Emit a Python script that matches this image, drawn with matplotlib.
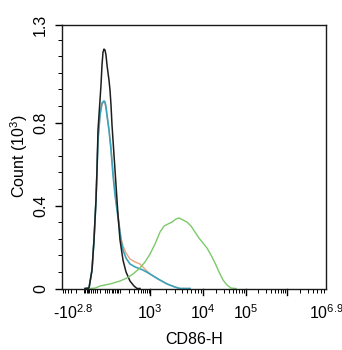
import matplotlib
matplotlib.use("Agg")
import matplotlib.pyplot as plt
import numpy as np

plt.rcParams['font.family'] = ['Liberation Sans', 'DejaVu Sans']
plt.rcParams['mathtext.fontset'] = 'custom'
plt.rcParams['mathtext.rm'] = 'Liberation Sans'
plt.rcParams['mathtext.it'] = 'Liberation Sans'

# histogram curves: x in display channel units (0 = -10^2.8, 264 = 10^6.9), y in count (10^3)
black_x = [23, 27, 30, 32, 34, 35, 36, 38, 39, 40, 41, 42, 43, 44, 45, 47, 48, 49, 50, 51,
           53, 55, 56, 58, 61, 64, 68, 72, 75, 78]
black_y = [0.0, 0.002, 0.089, 0.234, 0.427, 0.571, 0.764, 0.908, 0.981, 1.077, 1.139, 1.154,
           1.149, 1.125, 1.077, 1.004, 0.956, 0.884, 0.788, 0.716, 0.571, 0.427, 0.354, 0.234,
           0.137, 0.080, 0.036, 0.012, 0.0, 0.0]

teal_x = [23, 27, 30, 32, 34, 35, 36, 38, 40, 42, 43, 44, 45, 47, 49, 51, 53, 55, 57, 59,
          61, 64, 68, 73, 81, 88, 96, 105, 113, 118, 128]
teal_y = [0.0, 0.002, 0.089, 0.234, 0.427, 0.571, 0.716, 0.836, 0.894, 0.904, 0.899, 0.875,
          0.836, 0.764, 0.668, 0.547, 0.451, 0.378, 0.306, 0.234, 0.185, 0.147, 0.118, 0.104,
          0.089, 0.070, 0.046, 0.022, 0.007, 0.0, 0.0]

orange_x = [23, 27, 30, 32, 34, 35, 36, 38, 40, 42, 43, 44, 45, 47, 49, 51, 53, 55, 57, 59,
            61, 64, 68, 73, 78, 83, 88, 96, 105, 113, 118, 128]
orange_y = [0.0, 0.002, 0.089, 0.234, 0.427, 0.571, 0.716, 0.836, 0.889, 0.899, 0.894, 0.870,
            0.831, 0.764, 0.680, 0.564, 0.465, 0.390, 0.318, 0.243, 0.205, 0.171, 0.142, 0.128,
            0.118, 0.094, 0.070, 0.046, 0.022, 0.007, 0.0, 0.0]

green_x = [28, 33, 38, 48, 58, 65, 71, 78, 83, 88, 93, 98, 102, 106, 110, 114, 117, 121, 125,
           129, 133, 137, 141, 145, 149, 153, 157, 161, 165, 169, 174]
green_y = [0.0, 0.002, 0.012, 0.022, 0.036, 0.051, 0.070, 0.099, 0.128, 0.166, 0.214, 0.272,
           0.301, 0.311, 0.320, 0.335, 0.340, 0.330, 0.320, 0.301, 0.272, 0.243, 0.219, 0.195,
           0.161, 0.123, 0.080, 0.041, 0.017, 0.002, 0.0]

# biexponential-like axis anchors (value -> channel)
scale_vals = [-10**2.8, 0, 1e3, 1e4, 1e5, 1e6, 10**6.9]
scale_pos = [0, 40, 88, 141, 184, 225, 264]
x_labels = ['-$10^{2.8}$', '$10^{3}$', '$10^{4}$', '$10^{5}$', '$10^{6.9}$']
x_label_vals = [-10**2.8, 1e3, 1e4, 1e5, 10**6.9]


def to_channel(v):
    u = np.arcsinh(np.asarray(v, dtype=float) / 50.0)
    return np.interp(u, np.arcsinh(np.array(scale_vals) / 50.0), scale_pos)


fig = plt.figure(figsize=(3.42, 3.5), dpi=100)
ax = fig.add_axes([62 / 342, 61.5 / 350, 264 / 342, 263.5 / 350])

ax.plot(orange_x, orange_y, color='#e9a47e', lw=1.0)
ax.plot(teal_x, teal_y, color='#3aa3bb', lw=1.2)
ax.plot(black_x, black_y, color='#1e1e1e', lw=1.1)
ax.plot(green_x, green_y, color='#7cc96a', lw=1.0)

ax.set_xlim(0, 264)
ax.set_ylim(0, 1.27)

# x ticks
major = [1e3, 1e4, 1e5, 1e6]
minor = [-m * 100 for m in range(1, 7)] + [m * 10 for m in range(1, 10)] + [-m * 10 for m in range(1, 10)]
for d in range(2, 7):
    minor += [m * 10**d for m in range(2, 10)]
minor = [v for v in minor if -10**2.8 <= v <= 10**6.9]
ax.set_xticks(to_channel(x_label_vals[1:]))
ax.set_xticklabels(x_labels[1:], fontsize=11.5)
ax.set_xticks(np.concatenate([to_channel(major), to_channel(minor)]), minor=True)
ax.tick_params(axis='x', which='major', length=0, pad=11)
ax.tick_params(axis='x', which='minor', length=3, width=0.7, direction='out')
for v in major:
    ax.plot([to_channel(v)] * 2, [0, -0.03], color='black', lw=1.0, clip_on=False)
# first label sits to the right of its tick, as in the original
ax.annotate(x_labels[0], xy=(-9, 0), xycoords=ax.get_xaxis_transform(),
            xytext=(0, -11), textcoords='offset points', ha='left', va='top',
            fontsize=11.5, annotation_clip=False)

# y ticks
ax.set_yticks([0, 0.4, 0.8, 1.27])
ax.set_yticklabels(['0', '0.4', '0.8', '1.3'], rotation=90, va='center', fontsize=11.5)
ax.set_yticks(np.arange(0.08, 1.27, 0.08), minor=True)
ax.tick_params(axis='y', which='major', length=5, width=1.0, direction='out', pad=5)
ax.tick_params(axis='y', which='minor', length=3, width=0.7, direction='out')

for s in ax.spines.values():
    s.set_linewidth(1.0)
    s.set_color('#1a1a1a')

ax.set_xlabel('CD86-H', fontsize=11.5, labelpad=7)
ax.set_ylabel(r'Count ($10^{3}$)', fontsize=11.5, labelpad=2)

fig.savefig('out.png', dpi=100)
